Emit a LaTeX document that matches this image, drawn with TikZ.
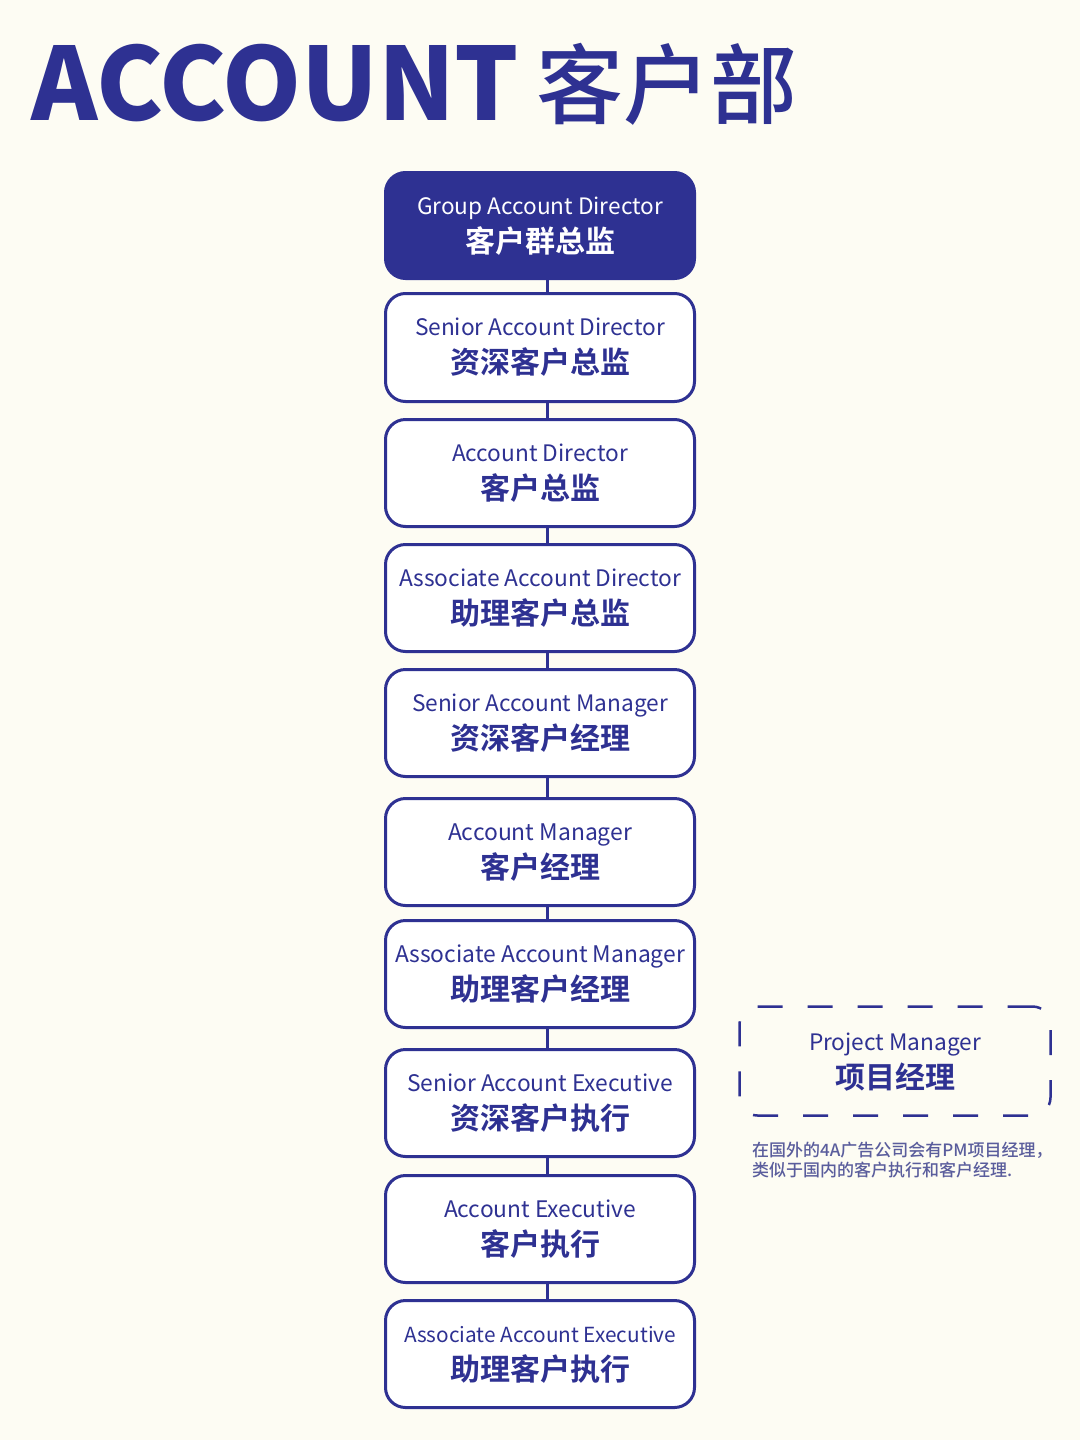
\documentclass[tikz,border=0pt]{standalone}
\usepackage{graphicx}
\usepackage{fontspec}
\setmainfont{Noto Sans CJK SC}
\newfontfamily\enfont{Noto Sans CJK SC}
\newfontfamily\zhbold{Noto Sans CJK SC Bold}
\newfontfamily\titlefont{Noto Sans CJK SC Black}
\newfontfamily\zhmed{Noto Sans CJK SC Medium}
\usetikzlibrary{calc}
\definecolor{navy}{HTML}{2E3192}
\definecolor{bg}{HTML}{FDFCF3}
\definecolor{notec}{HTML}{5A5D9C}
\tikzset{
  rolebox/.style={draw=navy, line width=3pt, rounded corners=20pt, fill=white,
    minimum width=309pt, inner sep=0pt},
  topbox/.style={rolebox, fill=navy},
  entext/.style={anchor=base, inner sep=0pt, text=navy, font=\enfont\fontsize{22}{26}\selectfont},
  zhtext/.style={anchor=base, inner sep=0pt, text=navy, font=\zhbold\fontsize{30}{36}\selectfont},
  conn/.style={draw=navy, line width=3pt},
  pmbox/.style={draw=navy, line width=2.5pt, rounded corners=18pt, dash pattern=on 25pt off 25pt,
    minimum width=311pt, minimum height=109pt, inner sep=0pt},
  notetext/.style={anchor=base west, inner sep=0pt, text=notec, font=\zhmed\fontsize{17}{20}\selectfont},
}
\newcommand\rolenode[7]{%
  \node[rolebox, minimum height=#3pt] (#1) at (540,#2) {};
  \node[entext] (#1en) at (540,#4+43) {\resizebox{#5pt}{!}{#6}};
  \node[zhtext] (#1zh) at (540,#4+81) {#7};
}
\begin{document}
\begin{tikzpicture}[x=1pt,y=-1pt]
\fill[bg] (0,0) rectangle (1080,1440);
\useasboundingbox (0,0) rectangle (1080,1440);

% title
\node[anchor=base west, inner sep=0pt, text=navy] (title) at (31,120)
  {\resizebox{488pt}{!}{\titlefont ACCOUNT}};
\node[anchor=base west, inner sep=0pt, text=navy, font=\zhmed\fontsize{87}{90}\selectfont] (titlezh) at (536,117) {客户部};

% top box
\node[topbox, minimum height=106pt] (b1) at (540,225.5) {};
\node[entext, text=white] (b1en) at (540,214) {\resizebox{246pt}{!}{Group Account Director}};
\node[zhtext, text=white] (b1zh) at (540,252) {客户群总监};

\rolenode{b2}{347.5}{108}{292}{250}{Senior Account Director}{资深客户总监}
\rolenode{b3}{473}{107}{418}{176}{Account Director}{客户总监}
\rolenode{b4}{598}{107}{543}{282}{Associate Account Director}{助理客户总监}
\rolenode{b5}{723}{107}{668}{256}{Senior Account Manager}{资深客户经理}
\rolenode{b6}{852}{107}{797}{184}{Account Manager}{客户经理}
\rolenode{b7}{974}{107}{919}{290}{Associate Account Manager}{助理客户经理}
\rolenode{b8}{1103}{107}{1048}{266}{Senior Account Executive}{资深客户执行}
\rolenode{b9}{1229}{107}{1174}{192}{Account Executive}{客户执行}
\rolenode{b10}{1354}{107}{1299}{272}{Associate Account Executive}{助理客户执行}

\foreach \a/\b in {b1/b2,b2/b3,b3/b4,b4/b5,b5/b6,b6/b7,b7/b8,b8/b9,b9/b10}
  \draw[conn] ([xshift=7pt]\a.south) -- ([xshift=7pt]\b.north);

% project manager
\node[pmbox] (pm) at (895,1061) {};
\node[entext] (pmen) at (895,1050) {\resizebox{172pt}{!}{Project Manager}};
\node[zhtext] (pmzh) at (895,1088) {项目经理};

\node[notetext] (note1) at (752,1156) {在国外的4A广告公司会有PM项目经理，};
\node[notetext] (note2) at (752,1176) {类似于国内的客户执行和客户经理.};
\end{tikzpicture}
\end{document}
